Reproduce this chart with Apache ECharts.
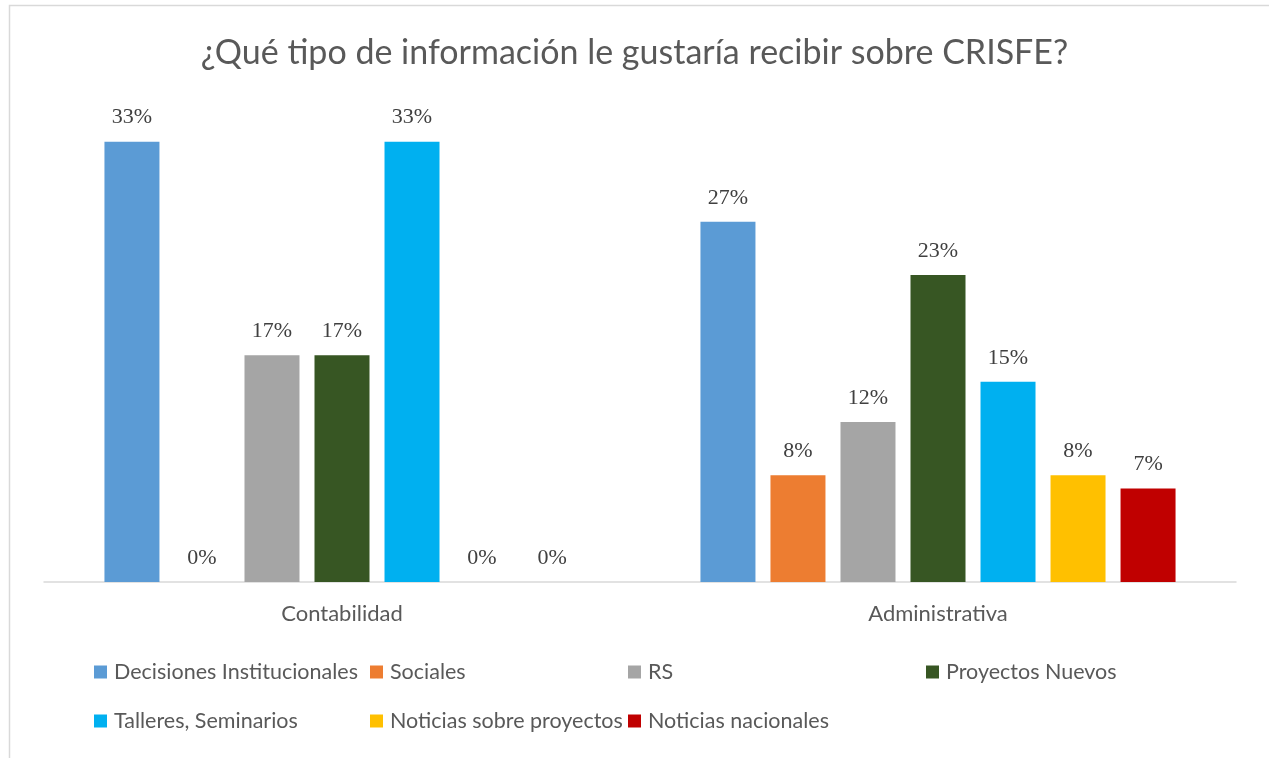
<!DOCTYPE html>
<html>
<head>
<meta charset="utf-8">
<script src="https://cdn.jsdelivr.net/npm/echarts@6/dist/echarts.min.js"></script>
<style>
  html, body { margin: 0; padding: 0; background: #fff; }
  #chart { width: 1269px; height: 758px; }
</style>
</head>
<body>
<div id="chart"></div>
<script>
// categorías del eje x
const categories = ['Contabilidad', 'Administrativa']
// nombres de las series (leyenda)
const seriesNames = [
  'Decisiones Institucionales', 'Sociales', 'RS', 'Proyectos Nuevos',
  'Talleres, Seminarios', 'Noticias sobre proyectos', 'Noticias nacionales'
]
// porcentajes por categoría, en el orden de seriesNames
const contabilidad = [33, 0, 17, 17, 33, 0, 0]
const administrativa = [27, 8, 12, 23, 15, 8, 7]
const colors = ['#5b9bd5', '#ed7d31', '#a5a5a5', '#375623', '#00b0f0', '#ffc000', '#c00000']

const chart = echarts.init(document.getElementById('chart'))

// posiciones de la leyenda (dos filas, como en el original)
const legendPos = [
  [94, 661], [370, 661], [628, 661], [926, 661],
  [94, 710], [370, 710], [628, 710]
]

const legends = seriesNames.map((name, i) => ({
  data: [name],
  left: legendPos[i][0],
  top: legendPos[i][1],
  itemWidth: 13,
  itemHeight: 13,
  icon: 'rect',
  padding: 0,
  selectedMode: false,
  textStyle: {
    fontFamily: 'Lato',
    fontSize: 21.5,
    color: '#595959',
    padding: [0, 0, 0, 2]
  }
}))

const series = seriesNames.map((name, i) => ({
  name: name,
  type: 'bar',
  data: [contabilidad[i], administrativa[i]],
  barWidth: 55,
  barGap: '27.3%',
  itemStyle: { color: colors[i] },
  label: {
    show: true,
    position: 'top',
    distance: 13,
    formatter: p => Math.round(p.value) + '%',
    fontFamily: 'Liberation Serif',
    fontSize: 22,
    color: '#404040'
  }
}))

const option = {
  animation: false,
  title: {
    text: '¿Qué tipo de información le gustaría recibir sobre CRISFE?',
    left: 'center',
    top: 31,
    textStyle: {
      fontFamily: 'Lato',
      fontWeight: 'normal',
      fontSize: 34,
      color: '#595959'
    }
  },
  legend: legends,
  grid: {
    left: 44,
    right: 33,
    top: 115,
    bottom: 176
  },
  xAxis: {
    type: 'category',
    data: categories,
    axisTick: { show: false },
    axisLine: { lineStyle: { color: '#d9d9d9', width: 1.5 } },
    axisLabel: {
      fontFamily: 'Lato',
      fontSize: 22,
      color: '#595959',
      margin: 21
    }
  },
  yAxis: {
    type: 'value',
    min: 0,
    max: 35,
    show: false,
    splitLine: { show: false }
  },
  graphic: [{
    type: 'rect',
    shape: { x: 9.5, y: 5.5, width: 1300, height: 800 },
    style: { fill: 'none', stroke: '#d9d9d9', lineWidth: 1.5 }
  }],
  series: series
}

chart.setOption(option)
window.addEventListener('resize', () => chart.resize())
</script>
</body>
</html>
